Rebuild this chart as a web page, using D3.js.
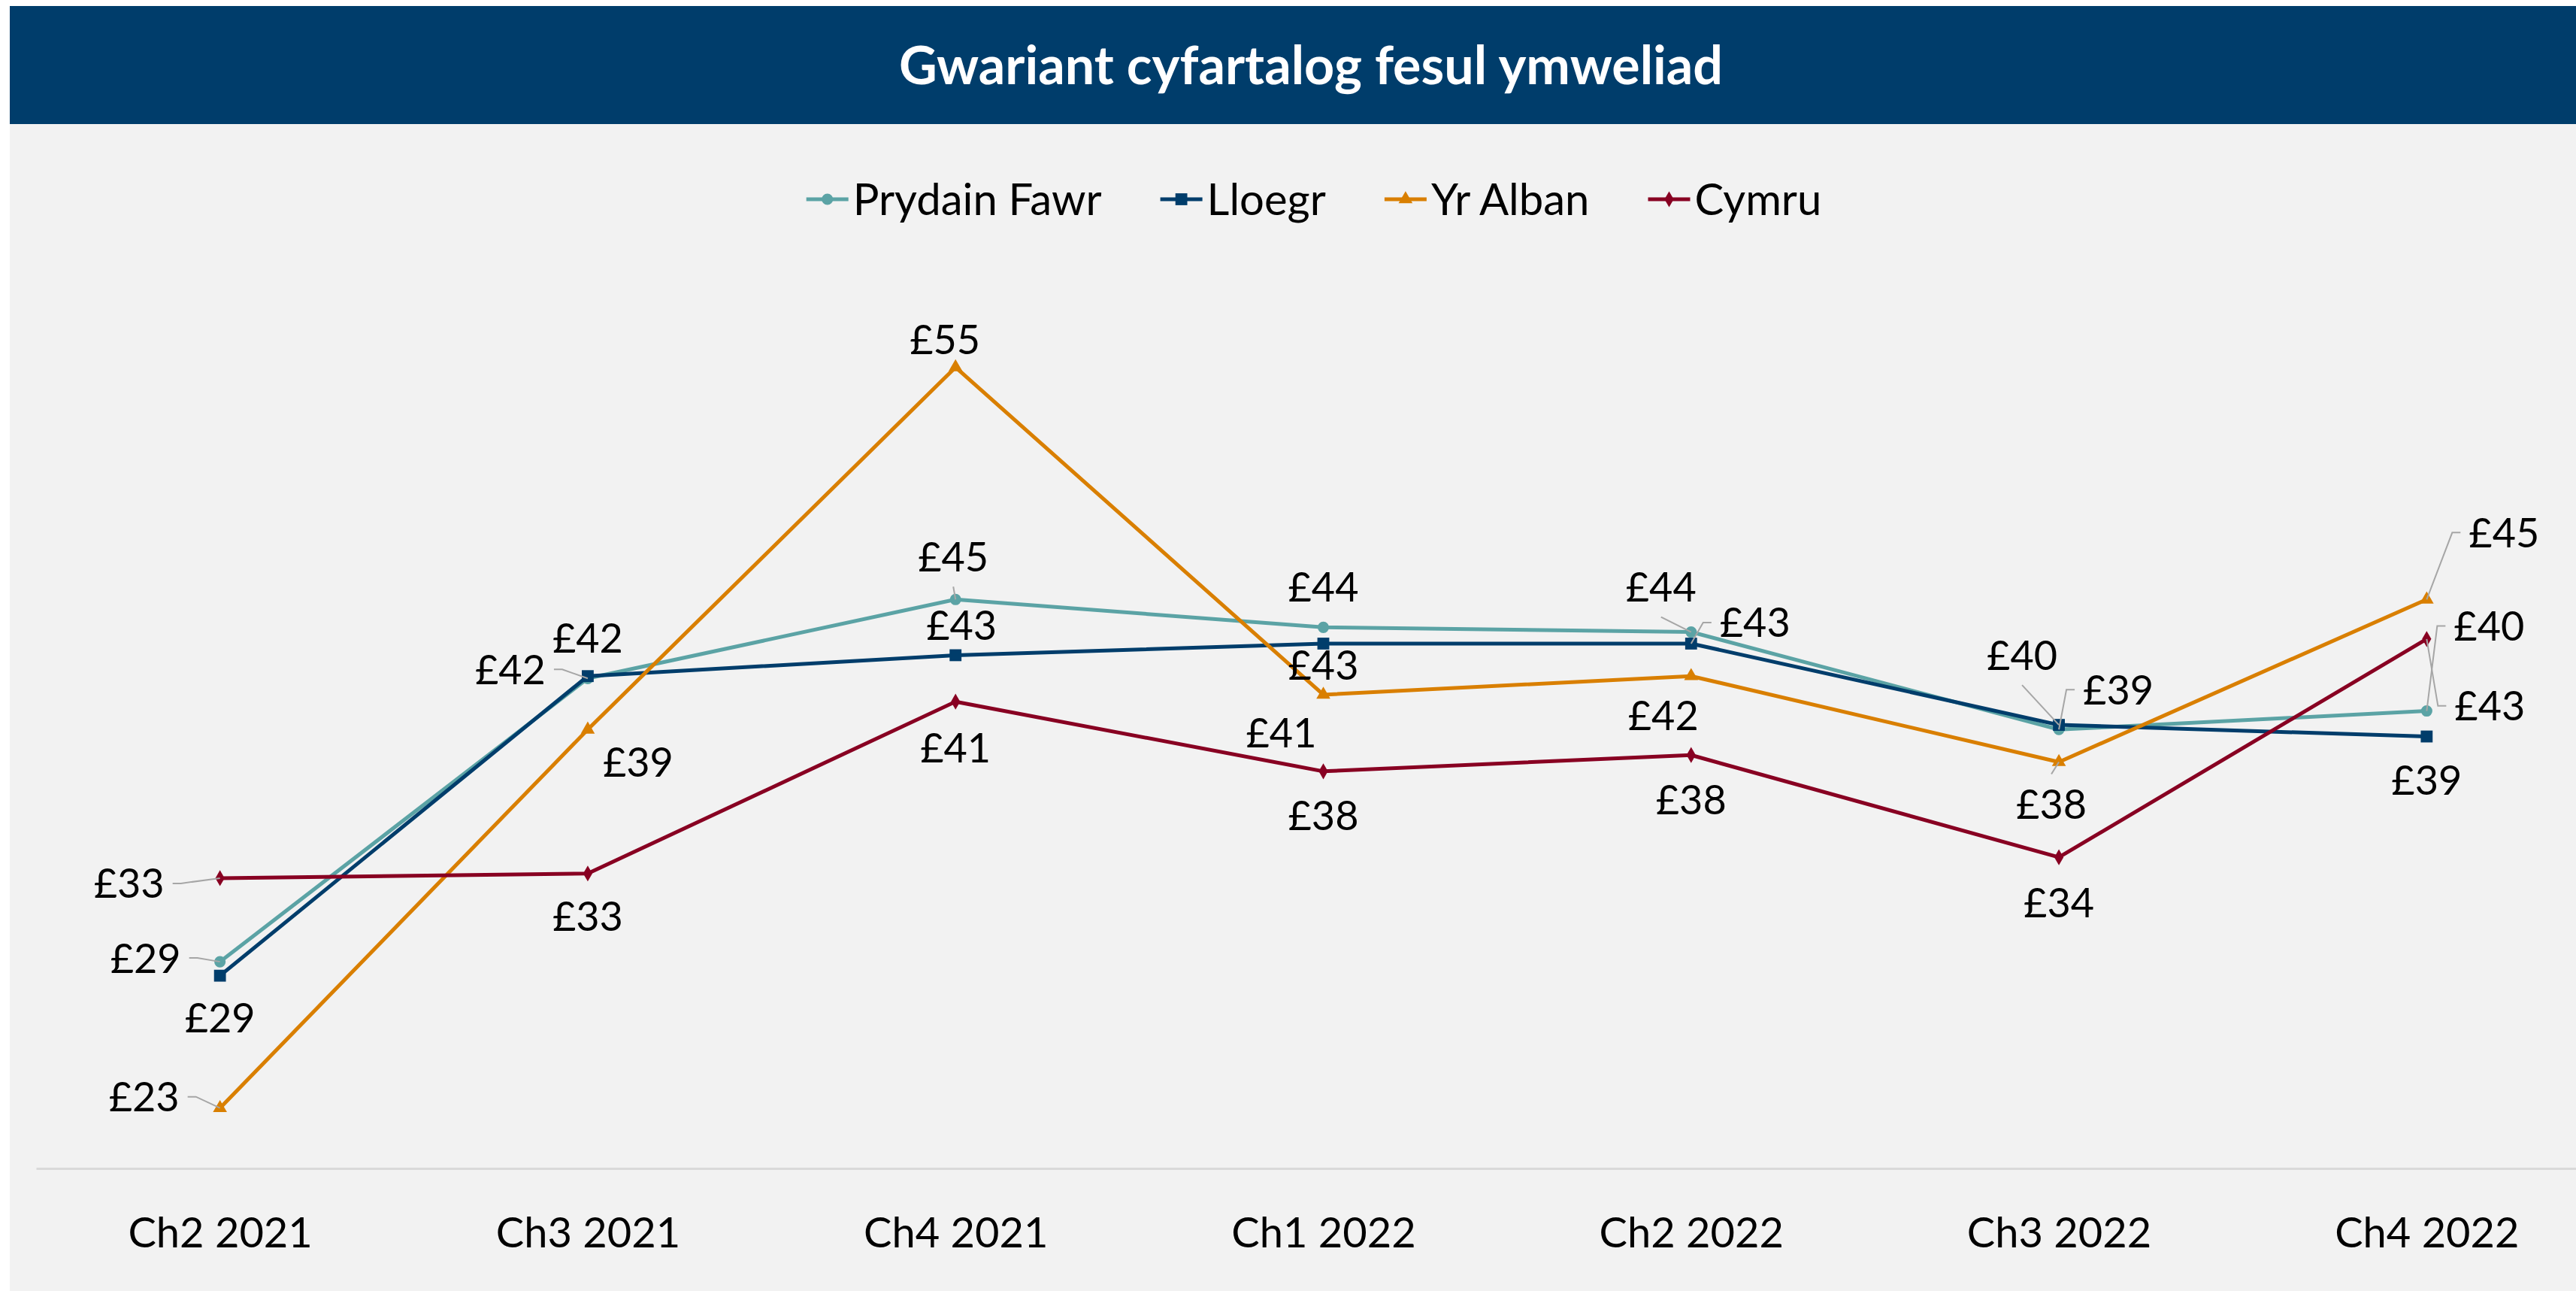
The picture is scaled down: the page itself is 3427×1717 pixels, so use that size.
<!DOCTYPE html>
<html>
<head>
<meta charset="utf-8">
<script src="https://cdn.jsdelivr.net/npm/d3@7"></script>
<style>
  body { margin: 0; background: #fff; }
  svg { display: block; font-family: Lato, 'Open Sans', sans-serif; }
</style>
</head>
<body>
<svg id="chart" width="3427" height="1717"></svg>
<script>
// chart data
const categories = ['Ch2 2021', 'Ch3 2021', 'Ch4 2021', 'Ch1 2022', 'Ch2 2022', 'Ch3 2022', 'Ch4 2022']
const seriesNames = ['Prydain Fawr', 'Lloegr', 'Yr Alban', 'Cymru']
const prydainFawr = [29.4, 41.6, 45.0, 43.8, 43.6, 39.4, 40.2]
const lloegr = [28.8, 41.7, 42.6, 43.1, 43.1, 39.6, 39.1]
const yrAlban = [23.1, 39.4, 55.0, 40.9, 41.7, 38.0, 45.0]
const cymru = [33.0, 33.2, 40.6, 37.6, 38.3, 33.9, 43.3]

const TITLE = 'Gwariant cyfartalog fesul ymweliad'
const COLORS = ['#5BA3A5', '#003D6B', '#D97F00', '#880022']
const SYMBOLS = [d3.symbolCircle, d3.symbolSquare, d3.symbolTriangle, d3.symbolDiamond]
const SYMBOL_SIZE = [180, 250, 150, 130]

// data label placement: offset of the label centre from its point, and leader style
const LABEL_POS = [
    [[-99, -5, 'h'], [-103, -12, 'h'], [-3, -57, 'v'], [0, -54], [-40, -60, 'v'], [79, -53, 'h'], [83, -113, 'h']],
    [[0, 56], [0, -51], [8, -40], [0, 29], [85, -28, 'h'], [-49, -93, 'v'], [0, 58]],
    [[-101, -15, 'h'], [67, 43], [-14, -37], [-56, 51], [-37, 52], [-10, 56, 'v'], [103, -89, 'h']],
    [[-121, 7, 'h'], [0, 57], [0, 61], [0, 59], [0, 59], [0, 60], [84, 89, 'h']]
]

const W = 3427, H = 1717
const plot = { left: 48, right: 3473, top: 334, bottom: 1554 }

const svg = d3.select('#chart')

svg.append('rect').attr('x', 13).attr('y', 8).attr('width', W - 13).attr('height', H - 8).attr('fill', '#F2F2F2')
svg.append('rect').attr('x', 13).attr('y', 8).attr('width', W - 13).attr('height', 157).attr('fill', '#003D6B')
svg.append('text')
    .attr('x', 1744).attr('y', 87).attr('dy', '0.36em')
    .attr('text-anchor', 'middle')
    .attr('fill', '#fff').attr('font-weight', 700).attr('font-size', 70)
    .text(TITLE)

const x = d3.scalePoint().domain(categories).range([plot.left, plot.right]).padding(0.5)
const y = d3.scaleLinear().domain([20.5, 60]).range([plot.bottom, plot.top])

const xAxis = svg.append('g')
    .attr('transform', `translate(0,${plot.bottom})`)
    .call(d3.axisBottom(x).tickSize(0).tickSizeOuter(0).tickPadding(65))
xAxis.select('.domain').attr('stroke', '#D9D9D9').attr('stroke-width', 3)
xAxis.selectAll('text').attr('font-size', 56).attr('font-family', 'Lato').attr('fill', '#000')

const series = [prydainFawr, lloegr, yrAlban, cymru].map((values, i) => ({
    name: seriesNames[i],
    color: COLORS[i],
    symbol: d3.symbol(SYMBOLS[i], SYMBOL_SIZE[i]),
    points: values.map((v, j) => ({ cat: categories[j], value: v, label: LABEL_POS[i][j] }))
}))

const line = d3.line().x(d => x(d.cat)).y(d => y(d.value))

const gSeries = svg.append('g')
series.forEach(s => {
    gSeries.append('path')
        .attr('d', line(s.points))
        .attr('fill', 'none')
        .attr('stroke', s.color)
        .attr('stroke-width', 5)
        .attr('stroke-linejoin', 'round')
})

// leader lines
const fmt = d3.format('.0f')
const gLeaders = svg.append('g')
const HW = 47, HH = 20
series.forEach(s => {
    s.points.forEach(p => {
        let [dx, dy, kind] = p.label
        if (!kind) return
        let px = x(p.cat), py = y(p.value)
        let lx = px + dx, ly = py + dy
        let pts
        if (kind === 'h') {
            let side = dx < 0 ? 1 : -1
            let sx = lx + side * (HW + 11)
            pts = [[sx, ly], [sx + side * 11, ly], [px, py]]
        } else {
            let side = dy < 0 ? 1 : -1
            pts = [[lx, ly + side * (HH + 20)], [px, py]]
        }
        gLeaders.append('path')
            .attr('d', d3.line()(pts))
            .attr('fill', 'none')
            .attr('stroke', '#A6A6A6')
            .attr('stroke-width', 2)
    })
})

series.forEach(s => {
    gSeries.selectAll(null)
        .data(s.points)
        .join('path')
        .attr('d', s.symbol)
        .attr('transform', d => `translate(${x(d.cat)},${y(d.value)})`)
        .attr('fill', s.color)
})

const gLabels = svg.append('g')
series.forEach(s => {
    gLabels.selectAll(null)
        .data(s.points)
        .join('text')
        .attr('x', d => x(d.cat) + d.label[0])
        .attr('y', d => y(d.value) + d.label[1])
        .attr('dy', '0.36em')
        .attr('text-anchor', 'middle')
        .attr('font-size', 54)
        .attr('fill', '#000')
        .text(d => '£' + fmt(d.value))
})

// legend, centred over the chart
const legend = svg.append('g').attr('transform', 'translate(0,265)')
let items = series.map(s => {
    let g = legend.append('g')
    g.append('line').attr('x1', 0).attr('x2', 56).attr('stroke', s.color).attr('stroke-width', 5)
    g.append('path').attr('d', s.symbol).attr('transform', 'translate(28,0)').attr('fill', s.color)
    let t = g.append('text').attr('x', 62).attr('dy', '0.36em').attr('font-size', 58).attr('fill', '#000').text(s.name)
    return { g, w: 62 + t.node().getComputedTextLength() }
})
const GAP = 78
let total = d3.sum(items, d => d.w) + GAP * (items.length - 1)
let cx = 1748 - total / 2
items.forEach(it => {
    it.g.attr('transform', `translate(${cx},0)`)
    cx += it.w + GAP
})
</script>
</body>
</html>
